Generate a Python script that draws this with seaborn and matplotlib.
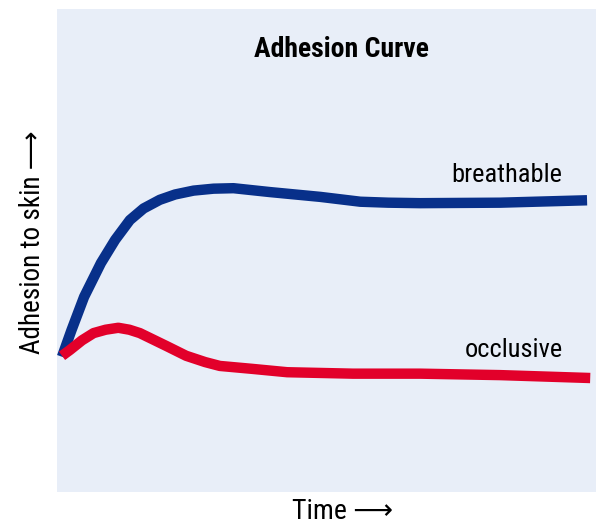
import pandas as pd
import matplotlib.pyplot as plt
import seaborn as sns

# puntos (tiempo 0-10, adhesion 0-100)
tiempo_b = [0, 0.18, 0.42, 0.74, 1.01, 1.29, 1.55, 1.86, 2.15, 2.50, 2.88, 3.26, 3.95, 4.91,
            5.67, 6.20, 6.81, 8.33, 9.98]
breathable = [28.0, 33.5, 40.4, 47.4, 52.2, 56.3, 58.7, 60.5, 61.6, 62.4, 62.8, 62.9, 62.1, 61.1,
              60.1, 59.9, 59.8, 59.9, 60.4]

tiempo_o = [0, 0.15, 0.38, 0.60, 0.83, 1.07, 1.28, 1.48, 1.99, 2.36, 2.72, 3.00, 3.61, 4.28,
            5.53, 6.81, 8.33, 10.04]
occlusive = [28.2, 29.4, 31.4, 32.9, 33.6, 34.0, 33.6, 32.9, 30.2, 28.2, 26.9, 26.1, 25.5, 24.8,
             24.5, 24.5, 24.2, 23.6]

etiquetas = ['breathable', 'occlusive']
colores = ['#08308a', '#e2002a']

df = pd.concat([
    pd.DataFrame({'Time': tiempo_b, 'Adhesion': breathable, 'tipo': etiquetas[0]}),
    pd.DataFrame({'Time': tiempo_o, 'Adhesion': occlusive, 'tipo': etiquetas[1]}),
])

sns.set_theme(style='white')
plt.rcParams['font.family'] = ['Roboto Condensed', 'DejaVu Sans']
plt.rcParams['text.color'] = 'black'
plt.rcParams['axes.labelcolor'] = 'black'

fig = plt.figure(figsize=(5.96, 5.28), dpi=100)
ax = fig.add_axes([57 / 596, 1 - 492 / 528, 539 / 596, 483 / 528])
ax.set_facecolor('#e8eef8')

sns.lineplot(data=df, x='Time', y='Adhesion', hue='tipo', palette=colores,
             linewidth=7.5, legend=False, ax=ax, sort=False)
for l in ax.lines:
    l.set_solid_capstyle('butt')
    l.set_solid_joinstyle('round')

ax.set_xlim(-0.095, 10.15)
ax.set_ylim(0, 100)
ax.set_xticks([])
ax.set_yticks([])
for s in ax.spines.values():
    s.set_visible(False)

ax.set_xlabel('Time \u27f6', fontsize=20)
ax.set_ylabel('Adhesion to skin \u27f6', fontsize=19.5)
ax.xaxis.set_label_coords(0.529, -0.041)
ax.yaxis.set_label_coords(-0.046, 0.517)
ax.xaxis.label.set_va('center')
ax.yaxis.label.set_va('center')

ax.text(0.528, 0.901, 'Adhesion Curve', transform=ax.transAxes, ha='center', va='baseline',
        fontsize=20, fontweight='bold')
ax.text(9.50, 64.2, 'breathable', ha='right', va='baseline', fontsize=19)
ax.text(9.53, 27.9, 'occlusive', ha='right', va='baseline', fontsize=19)

fig.savefig('out.png', dpi=100)
